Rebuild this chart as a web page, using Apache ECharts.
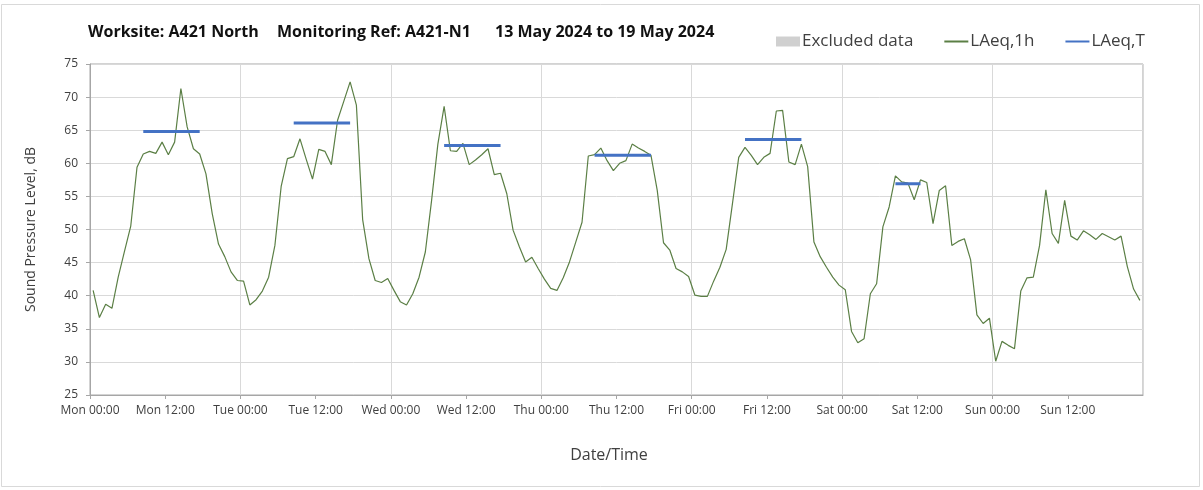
<!DOCTYPE html>
<html>
<head>
<meta charset="utf-8">
<script src="https://cdn.jsdelivr.net/npm/echarts@6/dist/echarts.min.js"></script>
<style>
  html, body { margin: 0; padding: 0; background: #fff; }
  #chart { width: 1203px; height: 490px; }
</style>
</head>
<body>
<div id="chart"></div>
<script>
// hourly LAeq,1h values, one array per day (00:00 .. 23:00)
const dayNames = ['Mon', 'Tue', 'Wed', 'Thu', 'Fri', 'Sat', 'Sun']
const mon = [40.8, 36.7, 38.7, 38.1, 42.8, 46.7, 50.5, 59.4, 61.4, 61.8, 61.5, 63.2, 61.3, 63.2, 71.3, 65.5, 62.2, 61.4, 58.4, 52.4, 47.8, 45.9, 43.6, 42.3]
const tue = [42.2, 38.6, 39.4, 40.7, 42.8, 47.6, 56.5, 60.7, 61.0, 63.7, 60.6, 57.6, 62.1, 61.8, 59.8, 66.5, 69.4, 72.3, 68.8, 51.5, 45.6, 42.3, 42.0, 42.6]
const wed = [40.8, 39.1, 38.6, 40.3, 42.8, 46.6, 54.4, 62.9, 68.6, 61.9, 61.8, 63.0, 59.8, 60.5, 61.3, 62.2, 58.3, 58.5, 55.4, 49.9, 47.4, 45.1, 45.8, 44.1]
const thu = [42.5, 41.1, 40.8, 42.7, 45.1, 48.1, 51.1, 61.1, 61.3, 62.3, 60.4, 58.9, 60.0, 60.4, 62.9, 62.3, 61.8, 61.2, 55.9, 48.0, 46.9, 44.1, 43.6, 42.9]
const fri = [40.1, 39.9, 39.9, 42.2, 44.3, 47.0, 53.9, 60.9, 62.4, 61.2, 59.8, 60.9, 61.5, 67.9, 68.0, 60.2, 59.8, 62.9, 59.5, 48.1, 45.9, 44.3, 42.8, 41.6]
const sat = [40.9, 34.6, 32.9, 33.5, 40.3, 41.8, 50.4, 53.4, 58.1, 57.2, 57.0, 54.5, 57.5, 57.1, 50.9, 55.9, 56.6, 47.6, 48.2, 48.6, 45.4, 37.1, 35.8, 36.6]
const sun = [30.1, 33.1, 32.5, 32.0, 40.7, 42.7, 42.8, 47.6, 56.0, 49.4, 47.9, 54.4, 49.0, 48.4, 49.8, 49.2, 48.5, 49.4, 48.9, 48.4, 49.0, 44.4, 41.0, 39.3]

// LAeq,T per day and the hours it covers
const laeqT = [64.8, 66.1, 62.7, 61.2, 63.6, 56.9]
const tStartHour = [8, 8, 8, 8, 8, 8]
const tEndHour = [17, 17, 17, 17, 17, 12]

const laeq1h = [].concat(mon, tue, wed, thu, fri, sat, sun)
// each hourly value sits in the middle of its hour
const hourlyData = laeq1h.map((v, i) => [i + 0.5, v])
const tData = []
laeqT.forEach((v, d) => {
  for (let h = tStartHour[d]; h <= tEndHour[d]; h++) {
    tData.push([d * 24 + h + 0.5, v])
  }
  tData.push([d * 24 + tEndHour[d] + 1, '-'])
})

const labelColor = '#404040'
const axisColor = '#a6a6a6'
const gridColor = '#d9d9d9'
const titleFont = 'bold 16px "Open Sans"'

const myChart = echarts.init(document.getElementById('chart'))
const option = {
  animation: false,
  backgroundColor: '#fff',
  textStyle: { fontFamily: 'Open Sans' },
  graphic: [
    { type: 'rect', shape: { x: 1.5, y: 4.5, width: 1198, height: 482 }, style: { fill: 'none', stroke: gridColor, lineWidth: 1 }, silent: true },
    { type: 'text', left: 88, top: 24, style: { text: 'Worksite: A421 North', font: titleFont, fill: '#111' } },
    { type: 'text', left: 277, top: 24, style: { text: 'Monitoring Ref: A421-N1', font: titleFont, fill: '#111' } },
    { type: 'text', left: 495, top: 24, style: { text: '13 May 2024 to 19 May 2024', font: titleFont, fill: '#111' } }
  ],
  legend: {
    left: 771,
    top: 28,
    itemWidth: 24,
    itemHeight: 10,
    itemGap: 30,
    textStyle: { fontSize: 17, color: labelColor, fontFamily: 'Open Sans', padding: [0, 0, 0, -3] },
    data: [
      { name: 'Excluded data', icon: 'rect' },
      { name: 'LAeq,1h', itemStyle: { opacity: 0 } },
      { name: 'LAeq,T', itemStyle: { opacity: 0 } }
    ]
  },
  grid: {
    left: 90,
    right: 60,
    top: 64,
    bottom: 95,
    show: true,
    borderColor: axisColor,
    borderWidth: 1
  },
  xAxis: [{
    type: 'value',
    min: 0,
    max: 168,
    interval: 12,
    name: 'Date/Time',
    nameLocation: 'middle',
    nameGap: 52,
    nameTextStyle: { fontSize: 16, color: labelColor, padding: [0, 15, 0, 0] },
    axisLine: { lineStyle: { color: axisColor } },
    axisTick: { length: 4, lineStyle: { color: axisColor } },
    axisLabel: {
      color: labelColor,
      fontSize: 12,
      margin: 10,
      showMaxLabel: false,
      formatter: v => v >= 168 ? '' : dayNames[Math.floor(v / 24)] + (v % 24 === 0 ? ' 00:00' : ' 12:00')
    },
    splitLine: { show: false }
  }, {
    // day boundaries only
    type: 'value',
    min: 0,
    max: 168,
    interval: 24,
    position: 'bottom',
    axisLine: { show: false },
    axisTick: { show: false },
    axisLabel: { show: false },
    splitLine: { show: true, lineStyle: { color: gridColor, width: 1 } }
  }],
  yAxis: {
    type: 'value',
    min: 25,
    max: 75,
    interval: 5,
    name: 'Sound Pressure Level, dB',
    nameLocation: 'middle',
    nameGap: 52,
    nameTextStyle: { fontSize: 14, color: labelColor },
    axisLine: { show: true, lineStyle: { color: axisColor } },
    axisTick: { show: true, length: 4, lineStyle: { color: axisColor } },
    axisLabel: { color: labelColor, fontSize: 12, margin: 12 },
    splitLine: { show: true, lineStyle: { color: gridColor, width: 1 } }
  },
  series: [{
    name: 'Excluded data',
    type: 'bar',
    data: [],
    itemStyle: { color: '#d0d0d0' }
  }, {
    name: 'LAeq,1h',
    type: 'line',
    xAxisIndex: 0,
    data: hourlyData,
    symbol: 'none',
    lineStyle: { color: '#5b7f45', width: 1.2 },
    itemStyle: { color: '#5b7f45' },
    z: 2
  }, {
    name: 'LAeq,T',
    type: 'line',
    xAxisIndex: 0,
    data: tData,
    symbol: 'none',
    connectNulls: false,
    lineStyle: { color: '#4472c4', width: 3 },
    itemStyle: { color: '#4472c4' },
    z: 3
  }]
}
myChart.setOption(option)
window.addEventListener('resize', () => {
  myChart.resize()
}, false)
</script>
</body>
</html>
